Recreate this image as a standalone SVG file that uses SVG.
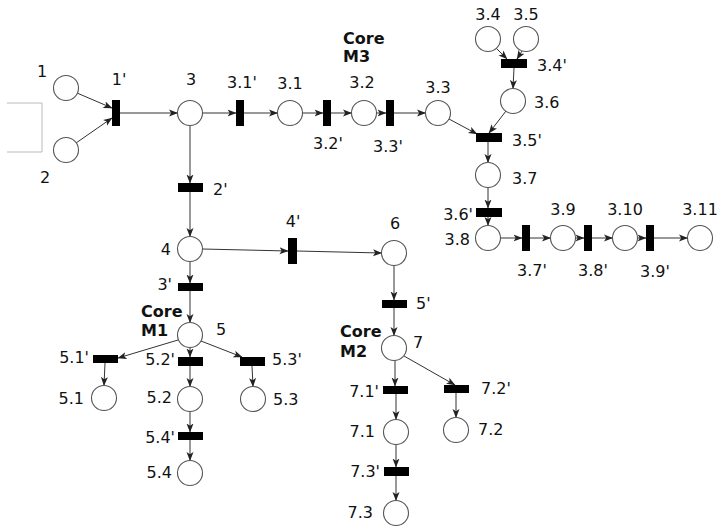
<svg xmlns="http://www.w3.org/2000/svg" width="717" height="530" viewBox="0 0 717 530">
  <defs>
    <marker id="arr" markerWidth="9" markerHeight="8" refX="8.5" refY="4" orient="auto" markerUnits="userSpaceOnUse">
      <path d="M0,0.5 L9,4 L0,7.5 L2.2,4 z" fill="#222"/>
    </marker>
  </defs>
  <style>
    .pl { fill: #fff; stroke: #555; stroke-width: 1.1; }
    .tr { fill: #000; }
    .ed line { stroke: #333; stroke-width: 1; marker-end: url(#arr); }
    text { font-family: "DejaVu Sans", "Liberation Sans", sans-serif; font-size: 16px; fill: #111; }
    .c { text-anchor: middle; }
    .e { text-anchor: end; }
    .core { font-weight: bold; }
  </style>
  <rect width="717" height="530" fill="#fff"/>

  <!-- open grey frame at the left margin -->
  <path d="M7,103 H42 V152 H7" fill="none" stroke="#bbb" stroke-width="1"/>

  <!-- connectors -->
  <g id="connectors" class="ed">
    <line x1="77" y1="93" x2="112" y2="108"/>
    <line x1="76" y1="143" x2="112" y2="118"/>
    <line x1="120" y1="113" x2="177.5" y2="113"/>
    <line x1="202.5" y1="113" x2="236" y2="113"/>
    <line x1="244" y1="113" x2="277.5" y2="113"/>
    <line x1="302.5" y1="113" x2="323" y2="113"/>
    <line x1="331" y1="113" x2="351.5" y2="113"/>
    <line x1="376.5" y1="113" x2="386" y2="113"/>
    <line x1="394" y1="113" x2="425.5" y2="113"/>
    <line x1="449" y1="119" x2="477" y2="134"/>
    <line x1="496" y1="48" x2="507" y2="59"/>
    <line x1="522" y1="51" x2="517" y2="59"/>
    <line x1="514" y1="68" x2="513" y2="88.5"/>
    <line x1="506" y1="111" x2="489" y2="133"/>
    <line x1="488" y1="142" x2="488" y2="162.5"/>
    <line x1="488" y1="187.5" x2="488" y2="208"/>
    <line x1="488" y1="214" x2="488" y2="225.5"/>
    <line x1="500.5" y1="238" x2="522" y2="238"/>
    <line x1="530" y1="238" x2="550.5" y2="238"/>
    <line x1="575.5" y1="238" x2="584" y2="238"/>
    <line x1="592" y1="238" x2="612.5" y2="238"/>
    <line x1="637.5" y1="238" x2="646" y2="238"/>
    <line x1="654" y1="238" x2="687.5" y2="238"/>
    <line x1="190" y1="125.5" x2="190" y2="183"/>
    <line x1="190" y1="192" x2="190" y2="236.5"/>
    <line x1="202.5" y1="249" x2="288" y2="251"/>
    <line x1="297" y1="251" x2="381.5" y2="253"/>
    <line x1="190" y1="261.5" x2="190" y2="283"/>
    <line x1="190" y1="291" x2="190" y2="322.5"/>
    <line x1="394" y1="265.5" x2="394" y2="300"/>
    <line x1="394" y1="308" x2="394" y2="335.5"/>
    <line x1="178" y1="340" x2="118" y2="358"/>
    <line x1="190" y1="347.5" x2="190" y2="357"/>
    <line x1="201" y1="341" x2="242" y2="357"/>
    <line x1="105" y1="363" x2="104" y2="385.5"/>
    <line x1="190" y1="366" x2="190" y2="386.5"/>
    <line x1="252" y1="366" x2="253" y2="386.5"/>
    <line x1="190" y1="411.5" x2="190" y2="432"/>
    <line x1="190" y1="440" x2="190" y2="460.5"/>
    <line x1="395" y1="360.5" x2="395" y2="386"/>
    <line x1="404" y1="356" x2="455" y2="385"/>
    <line x1="396" y1="394" x2="396" y2="419.5"/>
    <line x1="456" y1="393" x2="456" y2="417.5"/>
    <line x1="396" y1="444.5" x2="396" y2="467"/>
    <line x1="396" y1="476" x2="396" y2="500.5"/>
  </g>

  <!-- places -->
  <g id="p1"><circle class="pl" cx="66" cy="88" r="12.5"/><text class="c" x="42" y="77">1</text></g>
  <g id="p2"><circle class="pl" cx="66" cy="150" r="12.5"/><text class="c" x="45" y="183">2</text></g>
  <g id="p3"><circle class="pl" cx="190" cy="113" r="12.5"/><text class="c" x="191" y="85">3</text></g>
  <g id="p3_1"><circle class="pl" cx="290" cy="113" r="12.5"/><text class="c" x="290" y="89">3.1</text></g>
  <g id="p3_2"><circle class="pl" cx="364" cy="113" r="12.5"/><text class="c" x="362" y="88">3.2</text></g>
  <g id="p3_3"><circle class="pl" cx="438" cy="113" r="12.5"/><text class="c" x="438" y="93">3.3</text></g>
  <g id="p3_4"><circle class="pl" cx="488" cy="39" r="12.5"/><text class="c" x="488" y="20">3.4</text></g>
  <g id="p3_5"><circle class="pl" cx="526" cy="39" r="12.5"/><text class="c" x="526" y="20">3.5</text></g>
  <g id="p3_6"><circle class="pl" cx="513" cy="101" r="12.5"/><text x="534" y="108">3.6</text></g>
  <g id="p3_7"><circle class="pl" cx="488" cy="175" r="12.5"/><text x="512" y="184">3.7</text></g>
  <g id="p3_8"><circle class="pl" cx="488" cy="238" r="12.5"/><text class="e" x="470" y="245">3.8</text></g>
  <g id="p3_9"><circle class="pl" cx="563" cy="238" r="12.5"/><text class="c" x="563" y="215">3.9</text></g>
  <g id="p3_10"><circle class="pl" cx="625" cy="238" r="12.5"/><text class="c" x="625" y="215">3.10</text></g>
  <g id="p3_11"><circle class="pl" cx="700" cy="238" r="12.5"/><text class="c" x="700" y="215">3.11</text></g>
  <g id="p4"><circle class="pl" cx="190" cy="249" r="12.5"/><text class="e" x="171" y="255">4</text></g>
  <g id="p6"><circle class="pl" cx="394" cy="253" r="12.5"/><text class="c" x="395" y="229">6</text></g>
  <g id="p5"><circle class="pl" cx="190" cy="335" r="12.5"/><text x="216" y="335">5</text></g>
  <g id="p5_1"><circle class="pl" cx="104" cy="398" r="12.5"/><text class="e" x="84" y="404">5.1</text></g>
  <g id="p5_2"><circle class="pl" cx="190" cy="399" r="12.5"/><text class="e" x="172" y="403">5.2</text></g>
  <g id="p5_3"><circle class="pl" cx="253" cy="399" r="12.5"/><text x="273" y="405">5.3</text></g>
  <g id="p5_4"><circle class="pl" cx="190" cy="473" r="12.5"/><text class="e" x="172" y="478">5.4</text></g>
  <g id="p7"><circle class="pl" cx="394" cy="348" r="12.5"/><text x="413" y="348">7</text></g>
  <g id="p7_1"><circle class="pl" cx="396" cy="432" r="12.5"/><text class="e" x="375" y="437">7.1</text></g>
  <g id="p7_2"><circle class="pl" cx="456" cy="430" r="12.5"/><text x="478" y="435">7.2</text></g>
  <g id="p7_3"><circle class="pl" cx="396" cy="513" r="12.5"/><text class="e" x="373" y="518">7.3</text></g>

  <!-- transitions -->
  <g id="t1"><rect class="tr" x="112" y="100" width="8" height="26"/><text class="c" x="119" y="85">1'</text></g>
  <g id="t3_1"><rect class="tr" x="236" y="100" width="8" height="26"/><text class="c" x="242" y="88">3.1'</text></g>
  <g id="t3_2"><rect class="tr" x="323" y="100" width="8" height="26"/><text class="c" x="328" y="149">3.2'</text></g>
  <g id="t3_3"><rect class="tr" x="386" y="100" width="8" height="26"/><text class="c" x="388" y="152">3.3'</text></g>
  <g id="t3_4"><rect class="tr" x="501" y="59" width="26" height="9"/><text x="537" y="71">3.4'</text></g>
  <g id="t3_5"><rect class="tr" x="476" y="133" width="26" height="9"/><text x="512" y="146">3.5'</text></g>
  <g id="t3_6"><rect class="tr" x="476" y="208" width="26" height="9"/><text class="e" x="473" y="220">3.6'</text></g>
  <g id="t3_7"><rect class="tr" x="522" y="225" width="8" height="26"/><text class="c" x="532" y="276">3.7'</text></g>
  <g id="t3_8"><rect class="tr" x="584" y="225" width="8" height="26"/><text class="c" x="593" y="276">3.8'</text></g>
  <g id="t3_9"><rect class="tr" x="646" y="225" width="8" height="26"/><text class="c" x="655" y="277">3.9'</text></g>
  <g id="t2"><rect class="tr" x="178" y="183" width="25" height="9"/><text x="213" y="195">2'</text></g>
  <g id="t4"><rect class="tr" x="288" y="238" width="9" height="26"/><text class="c" x="293" y="227">4'</text></g>
  <g id="t3"><rect class="tr" x="178" y="283" width="25" height="8"/><text class="e" x="172" y="290">3'</text></g>
  <g id="t5"><rect class="tr" x="382" y="300" width="25" height="8"/><text x="416" y="309">5'</text></g>
  <g id="t5_1"><rect class="tr" x="93" y="355" width="25" height="8"/><text class="e" x="89" y="363">5.1'</text></g>
  <g id="t5_2"><rect class="tr" x="178" y="357" width="25" height="9"/><text class="e" x="175" y="365">5.2'</text></g>
  <g id="t5_3"><rect class="tr" x="240" y="357" width="25" height="9"/><text x="272" y="365">5.3'</text></g>
  <g id="t5_4"><rect class="tr" x="178" y="432" width="25" height="8"/><text class="e" x="175" y="443">5.4'</text></g>
  <g id="t7_1"><rect class="tr" x="383" y="386" width="25" height="8"/><text class="e" x="379" y="397">7.1'</text></g>
  <g id="t7_2"><rect class="tr" x="444" y="385" width="25" height="8"/><text x="481" y="394">7.2'</text></g>
  <g id="t7_3"><rect class="tr" x="384" y="467" width="25" height="9"/><text class="e" x="380" y="477">7.3'</text></g>

  <!-- core labels -->
  <g id="coreM3"><text class="core" x="343" y="44">Core</text><text class="core" x="343" y="62">M3</text></g>
  <g id="coreM1"><text class="core" x="141" y="317">Core</text><text class="core" x="141" y="336">M1</text></g>
  <g id="coreM2"><text class="core" x="340" y="337">Core</text><text class="core" x="340" y="357">M2</text></g>
</svg>
